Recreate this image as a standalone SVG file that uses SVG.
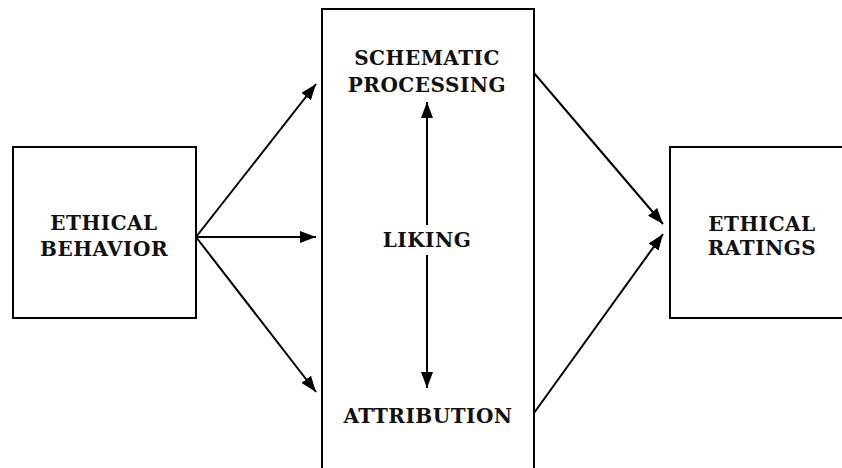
<svg xmlns="http://www.w3.org/2000/svg" width="842" height="468" viewBox="0 0 842 468">
<style>
.box{fill:#fff;stroke:#000;stroke-width:2}
.lbl{font-family:"DejaVu Serif","Liberation Serif",serif;font-weight:bold;font-size:20px;letter-spacing:0.5px;fill:#111;text-anchor:middle}
.con{stroke:#000;stroke-width:2;fill:none}
</style>
<defs>
<marker id="ah" viewBox="0 0 16 12" refX="16" refY="6" markerWidth="16" markerHeight="12" markerUnits="userSpaceOnUse" orient="auto-start-reverse">
<path d="M0,0 L16,6 L0,12 z" fill="#000"/>
</marker>
</defs>
<rect width="842" height="468" fill="#fff"/>
<g id="behavior">
<rect class="box" x="13" y="147" width="183" height="171"/>
<text class="lbl" x="104" y="230">ETHICAL</text>
<text class="lbl" x="104" y="256">BEHAVIOR</text>
</g>
<g id="middle">
<rect class="box" x="322" y="9" width="212" height="470"/>
<text class="lbl" x="427" y="65">SCHEMATIC</text>
<text class="lbl" x="427" y="92">PROCESSING</text>
<text class="lbl" x="427" y="247">LIKING</text>
<text class="lbl" x="428" y="423">ATTRIBUTION</text>
</g>
<g id="ratings">
<rect class="box" x="670" y="147" width="190" height="171"/>
<text class="lbl" x="762" y="231">ETHICAL</text>
<text class="lbl" x="762" y="255">RATINGS</text>
</g>
<g id="connectors">
<line class="con" x1="196" y1="237" x2="316" y2="84" marker-end="url(#ah)"/>
<line class="con" x1="196" y1="237" x2="316" y2="237" marker-end="url(#ah)"/>
<line class="con" x1="196" y1="237" x2="316" y2="392" marker-end="url(#ah)"/>
<line class="con" x1="534" y1="73" x2="663" y2="224" marker-end="url(#ah)"/>
<line class="con" x1="534" y1="413" x2="663" y2="234" marker-end="url(#ah)"/>
<line class="con" x1="427" y1="225" x2="427" y2="102" marker-end="url(#ah)"/>
<line class="con" x1="427" y1="255" x2="427" y2="388" marker-end="url(#ah)"/>
</g>
</svg>
